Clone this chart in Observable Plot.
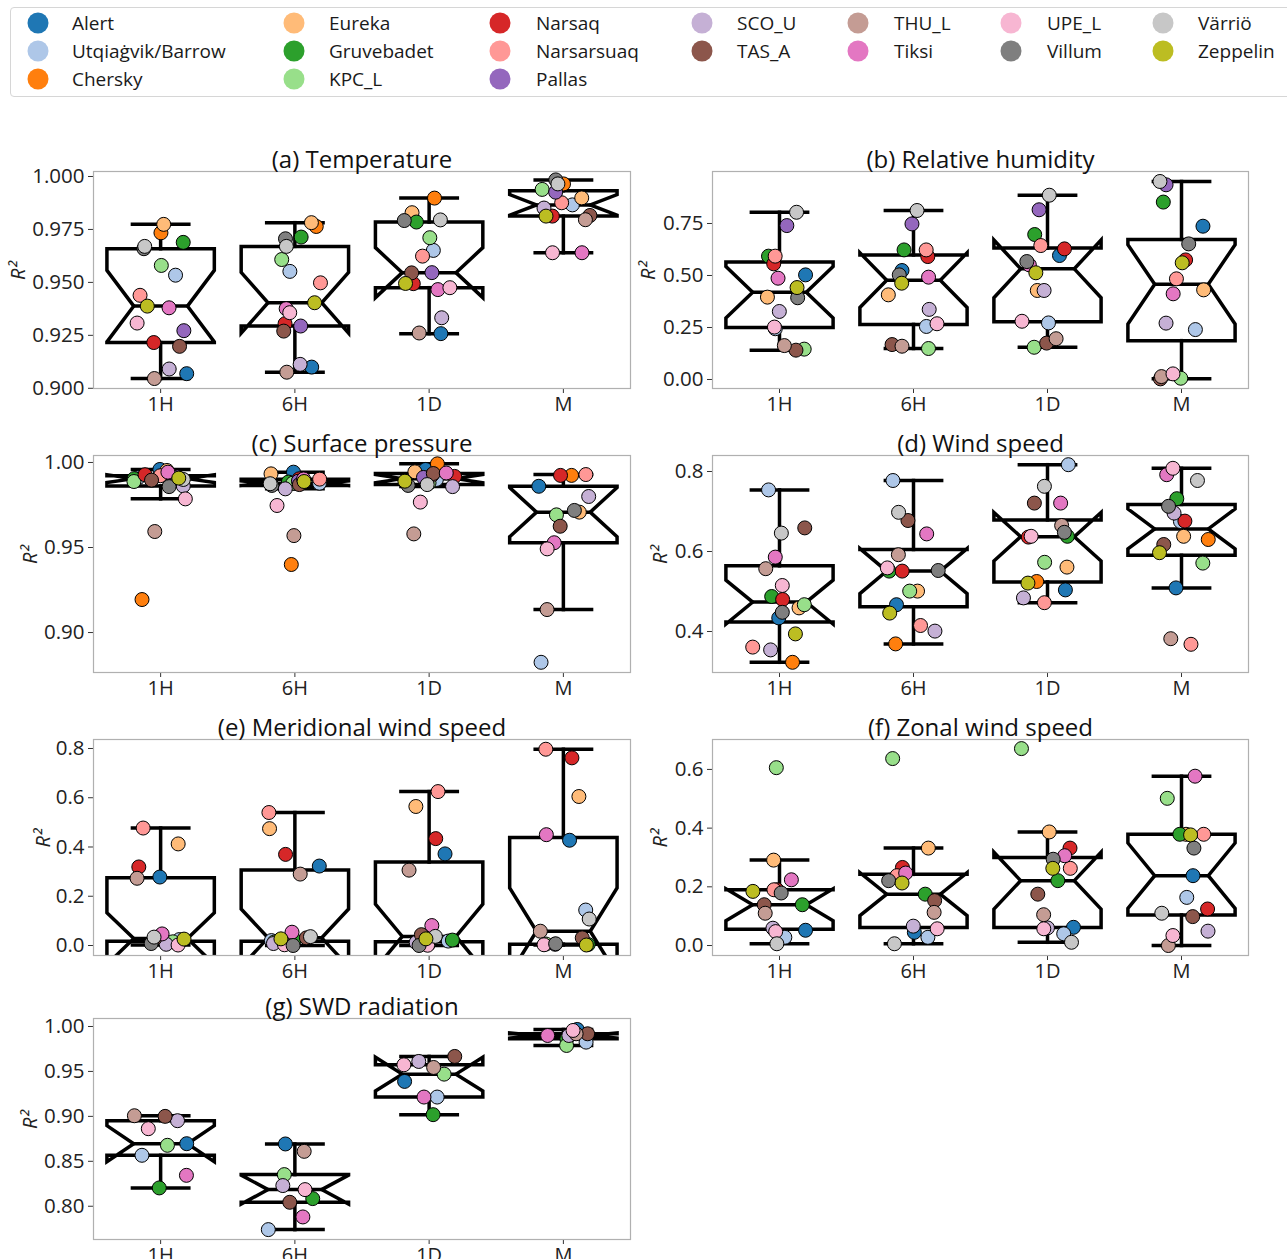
<!DOCTYPE html>
<html><head><meta charset="utf-8">
<script src="https://cdn.jsdelivr.net/npm/d3@7"></script>
<script src="https://cdn.jsdelivr.net/npm/@observablehq/plot@0.6"></script>
<style>
body{margin:0;background:#fff;font-family:"Open Sans",sans-serif;}
#root{position:relative;width:1287px;height:1259px;overflow:hidden;background:#fff;}
.panel{position:absolute;}
#legend{position:absolute;left:10px;top:7px;width:1290px;height:90px;border:1px solid #d6d6d6;border-radius:4px;box-sizing:border-box;background:#fff;}
.li{position:absolute;font-size:19px;color:#1a1a1a;white-space:nowrap;line-height:20px;transform:translateY(-50%);}
.sw{position:absolute;width:21px;height:21px;border-radius:50%;transform:translate(-50%,-50%);}
</style></head>
<body><div id="root"><div id="legend"></div></div>
<script>
// ---------------- data ----------------
const stations = ["Alert","Utqiaġvik/Barrow","Chersky","Eureka","Gruvebadet","KPC_L","Narsaq","Narsarsuaq","Pallas","SCO_U","TAS_A","THU_L","Tiksi","UPE_L","Villum","Värriö","Zeppelin"];
const stationColors = ["#1f77b4","#aec7e8","#ff7f0e","#ffbb78","#2ca02c","#98df8a","#d62728","#ff9896","#9467bd","#c5b0d5","#8c564b","#c49c94","#e377c2","#f7b6d2","#7f7f7f","#c7c7c7","#bcbd22"];
const resolutions = ["1H","6H","1D","M"];

// values in station order (null = station not available)
// (a) Temperature
const T_1H = [0.9069,0.9534,0.9734,0.9774,0.9689,0.9580,0.9216,0.9439,0.9272,0.9091,0.9198,0.9046,0.9380,0.9308,0.9659,0.9670,0.9388];
const T_6H = [0.9100,0.9552,0.9764,0.9782,0.9714,0.9608,0.9305,0.9498,0.9294,0.9113,0.9270,0.9076,0.9376,0.9357,0.9706,0.9670,0.9404];
const T_1D = [0.9258,0.9651,0.9898,0.9829,0.9785,0.9711,0.9494,0.9624,0.9546,0.9333,0.9545,0.9261,0.9466,0.9475,0.9792,0.9795,0.9495];
const T_M  = [null,0.9866,0.9965,0.9899,null,0.9939,0.9813,0.9876,0.9926,0.9851,0.9816,0.9796,0.9640,0.9640,0.9984,0.9965,0.9813];
// (b) Relative humidity
const RH_1H = [0.503,0.244,null,0.396,0.593,0.146,0.556,0.593,0.740,0.327,0.141,0.163,0.487,0.252,0.393,0.804,0.442];
const RH_6H = [0.524,0.255,null,0.407,0.623,0.149,0.591,0.623,0.748,0.337,0.168,0.160,0.492,0.268,0.503,0.8125,0.463];
const RH_1D = [0.596,0.272,null,0.428,0.697,0.155,0.628,0.644,0.816,0.428,0.175,0.196,0.551,0.280,0.567,0.886,0.513];
const RH_M  = [0.737,0.240,null,0.431,0.853,0.006,0.575,0.484,0.936,0.271,0.003,0.014,0.412,0.027,0.652,0.952,0.561];
// (c) Surface pressure
const SP_1H = [0.9959,0.9910,0.9194,0.9953,0.9905,0.9888,0.9928,0.9922,0.9915,0.9862,0.9896,0.9594,0.9943,0.9786,0.9858,0.9900,0.9908];
const SP_6H = [0.9943,0.9878,0.9400,0.9933,0.9885,0.9878,0.9904,0.9902,0.9890,0.9845,0.9870,0.9570,0.9903,0.9747,0.9865,0.9875,0.9888];
const SP_1D = [0.9959,0.9900,0.9992,0.9945,0.9905,0.9880,0.9918,0.9925,0.9912,0.9858,0.9935,0.9580,0.9938,0.9767,0.9865,0.9870,0.9890];
const SP_M  = [0.9860,0.8825,0.9924,0.9708,null,0.9692,0.9924,0.9929,null,0.9800,0.9625,0.9135,0.9528,0.9492,0.9718,null,null];
// (d) Wind speed
const WS_1H = [0.434,0.754,0.323,0.459,0.4875,0.467,0.480,0.361,null,0.354,0.659,0.557,0.586,0.515,0.448,0.646,0.394];
const WS_6H = [0.467,0.7775,0.369,0.501,0.551,0.501,0.551,0.415,null,0.401,0.6775,0.592,0.644,0.559,0.5525,0.698,0.446];
const WS_1D = [0.504,0.817,0.525,0.561,0.638,0.573,0.636,0.472,null,0.484,0.721,0.665,0.721,0.638,0.648,0.763,0.521];
const WS_M  = [0.509,0.675,0.630,0.638,0.732,0.571,0.676,0.368,null,0.696,0.6175,0.382,0.792,0.808,0.713,0.7775,0.597];
// (e) Meridional wind speed
const MWS_1H = [0.278,0.024,null,0.4125,0.019,0.015,0.319,0.477,null,0.005,0.028,0.273,0.047,0.002,0.008,0.034,0.026];
const MWS_6H = [0.3226,0.020,null,0.4745,0.023,0.014,0.370,0.540,null,0.008,0.031,0.290,0.054,0.003,0.000,0.036,0.027];
const MWS_1D = [0.372,0.018,null,0.5645,0.022,0.007,0.434,0.625,null,0.012,0.044,0.306,0.081,0.001,0.000,0.037,0.027];
const MWS_M  = [0.4274,0.144,null,0.605,0.004,0.006,0.762,0.797,null,0.005,0.031,0.058,0.450,0.003,0.007,0.1075,0.002];
// (f) Zonal wind speed
const ZWS_1H = [0.052,0.028,null,0.291,0.139,0.606,0.190,0.190,null,0.059,0.139,0.110,0.224,0.0475,0.179,0.006,0.1845];
const ZWS_6H = [0.045,0.028,null,0.332,0.175,0.637,0.266,0.238,null,0.066,0.153,0.113,0.247,0.057,0.221,0.006,0.213];
const ZWS_1D = [0.062,0.040,null,0.387,0.221,0.671,0.332,0.263,null,0.060,0.175,0.105,0.306,0.057,0.294,0.011,0.263];
const ZWS_M  = [0.238,0.164,null,0.379,0.379,0.5015,0.1245,0.379,null,0.049,0.0985,0.000,0.577,0.034,0.332,0.110,0.377];
// (g) SWD radiation
const SWD_1H = [0.8696,0.8567,null,null,0.8204,0.8678,null,null,null,0.8952,0.9000,0.9007,0.8344,0.8863,null,null,null];
const SWD_6H = [0.8693,0.7740,null,null,0.8085,0.8352,null,null,null,0.8230,0.8044,0.8611,0.7881,0.8185,null,null,null];
const SWD_1D = [0.9389,0.9215,null,null,0.9019,0.9470,null,null,null,0.9611,0.9667,0.9544,0.9215,0.9574,null,null,null];
const SWD_M  = [0.9967,0.9826,null,null,0.9863,0.9789,null,null,null,0.9900,0.9919,0.9919,0.9900,0.9956,null,null,null];

const titles = ["(a) Temperature","(b) Relative humidity","(c) Surface pressure","(d) Wind speed","(e) Meridional wind speed","(f) Zonal wind speed","(g) SWD radiation"];
const yTicksA = [0.900,0.925,0.950,0.975,1.000];
const yTicksB = [0.00,0.25,0.50,0.75];
const yTicksC = [0.90,0.95,1.00];
const yTicksD = [0.4,0.6,0.8];
const yTicksE = [0.0,0.2,0.4,0.6,0.8];
const yTicksF = [0.0,0.2,0.4,0.6];
const yTicksG = [0.80,0.85,0.90,0.95,1.00];

// ---------------- legend ----------------
const legend = document.getElementById("legend");
const colX = [37,293,499,701,857,1010,1162];
const labX = [71,328,535,736,893,1046,1197];
const rowY = [22,50,78];
const colStart = [0,3,6,9,11,13,15,17];
for (let c = 0; c < 7; c++) {
  for (let k = colStart[c]; k < colStart[c+1]; k++) {
    const r = k - colStart[c];
    const sw = document.createElement("div");
    sw.className = "sw";
    sw.style.left = (colX[c]-10) + "px"; sw.style.top = (rowY[r]-7) + "px";
    sw.style.background = stationColors[k];
    legend.appendChild(sw);
    const lb = document.createElement("div");
    lb.className = "li";
    lb.style.left = (labX[c]-10) + "px"; lb.style.top = (rowY[r]-7) + "px";
    lb.textContent = stations[k];
    legend.appendChild(lb);
  }
}

// ---------------- panels ----------------
function boxStats(vals) {
  const s = vals.slice().sort(d3.ascending);
  const n = s.length;
  const q1 = d3.quantileSorted(s, 0.25), med = d3.quantileSorted(s, 0.5), q3 = d3.quantileSorted(s, 0.75);
  const iqr = q3 - q1;
  const lo = d3.min(s.filter(v => v >= q1 - 1.5*iqr));
  const hi = d3.max(s.filter(v => v <= q3 + 1.5*iqr));
  const ci = 1.57 * iqr / Math.sqrt(n);
  return {q1, med, q3, lo, hi, cilo: med - ci, cihi: med + ci};
}

function makePanel(cfg) {
  const {series, yDomain, ticks, fmt, title, labelDx, fx0, fx1, fy0, fy1, left, width, seed} = cfg;
  const rnd = d3.randomUniform.source(d3.randomLcg(seed))(-0.2, 0.2);
  const pts = [];
  series.forEach((arr, i) => arr.forEach((v, s) => { if (v != null) pts.push({i, s, station: stations[s], v, x: i + rnd()}); }));
  const segs = [];
  let k = 0;
  const hw = 0.4, nw = 0.2, cw = 0.21;
  series.forEach((arr, i) => {
    const b = boxStats(arr.filter(v => v != null));
    const path = [[-hw,b.q1],[hw,b.q1],[hw,b.cilo],[nw,b.med],[hw,b.cihi],[hw,b.q3],[-hw,b.q3],[-hw,b.cihi],[-nw,b.med],[-hw,b.cilo],[-hw,b.q1]];
    const add = (p) => { k++; p.forEach(([dx, y]) => segs.push({k, x: i + dx, y})); };
    add(path);
    add([[-nw,b.med],[nw,b.med]]);
    add([[0,b.q1],[0,b.lo]]);
    add([[0,b.q3],[0,b.hi]]);
    add([[-cw,b.lo],[cw,b.lo]]);
    add([[-cw,b.hi],[cw,b.hi]]);
  });
  const mTop = 50, mBot = 38;
  const svg = Plot.plot({
    width, height: (fy1 - fy0) + mTop + mBot,
    marginLeft: fx0 - left, marginRight: left + width - fx1, marginTop: mTop, marginBottom: mBot,
    style: {background: "transparent", fontFamily: "Open Sans, sans-serif", fontSize: "20px", color: "#222", overflow: "visible"},
    x: {domain: [-0.5, 3.5], axis: null},
    y: {domain: yDomain, axis: null},
    color: {domain: stations, range: stationColors},
    marks: [
      Plot.axisX({ticks: [0,1,2,3], tickFormat: i => resolutions[i], tickSize: 5, tickPadding: 3, fontSize: 20, stroke: "#333", label: null}),
      Plot.axisY({ticks, tickFormat: d3.format(fmt), tickSize: 5, tickPadding: 4, fontSize: 20.5, label: null, stroke: "#333"}),
      Plot.line(segs, {x: "x", y: "y", z: "k", stroke: "black", strokeWidth: 3.5, clip: true, strokeLinejoin: "miter", strokeMiterlimit: 6, strokeLinecap: "square"}),
      Plot.frame({stroke: "#b0b0b0", strokeWidth: 1.2}),
      Plot.dot(pts, {x: "x", y: "v", r: 7, fill: "station", stroke: "black", strokeWidth: 1}),
      Plot.text([title], {frameAnchor: "top", lineAnchor: "bottom", dy: -4, fontSize: 24, fill: "#111"}),
      Plot.text(["R²"], {frameAnchor: "left", dx: labelDx, rotate: -90, fontSize: 20, fontStyle: "italic", fill: "#222"})
    ]
  });
  const div = document.createElement("div");
  div.className = "panel";
  div.style.left = left + "px";
  div.style.top = (fy0 - mTop) + "px";
  div.appendChild(svg);
  document.getElementById("root").appendChild(div);
}

const L = {left: 0, width: 640, fx0: 93, fx1: 630};
const R = {left: 640, width: 647, fx0: 712, fx1: 1248};
makePanel({...L, fy0: 171, fy1: 388, series: [T_1H,T_6H,T_1D,T_M], yDomain: [0.8999, 1.00236], ticks: yTicksA, fmt: ".3f", title: titles[0], labelDx: -75, seed: 0.11});
makePanel({...R, fy0: 171, fy1: 388, series: [RH_1H,RH_6H,RH_1D,RH_M], yDomain: [-0.0433, 1.0], ticks: yTicksB, fmt: ".2f", title: titles[1], labelDx: -64, seed: 0.23});
makePanel({...L, fy0: 455, fy1: 672, series: [SP_1H,SP_6H,SP_1D,SP_M], yDomain: [0.8765, 1.0041], ticks: yTicksC, fmt: ".2f", title: titles[2], labelDx: -63, seed: 0.37});
makePanel({...R, fy0: 455, fy1: 672, series: [WS_1H,WS_6H,WS_1D,WS_M], yDomain: [0.2975, 0.84], ticks: yTicksD, fmt: ".1f", title: titles[3], labelDx: -52, seed: 0.41});
makePanel({...L, fy0: 739, fy1: 955, series: [MWS_1H,MWS_6H,MWS_1D,MWS_M], yDomain: [-0.0406, 0.8365], ticks: yTicksE, fmt: ".1f", title: titles[4], labelDx: -50, seed: 0.53});
makePanel({...R, fy0: 739, fy1: 955, series: [ZWS_1H,ZWS_6H,ZWS_1D,ZWS_M], yDomain: [-0.034, 0.702], ticks: yTicksF, fmt: ".1f", title: titles[5], labelDx: -52, seed: 0.67});
makePanel({...L, fy0: 1018, fy1: 1239, series: [SWD_1H,SWD_6H,SWD_1D,SWD_M], yDomain: [0.763, 1.0089], ticks: yTicksG, fmt: ".2f", title: titles[6], labelDx: -63, seed: 0.79});
</script></body></html>
